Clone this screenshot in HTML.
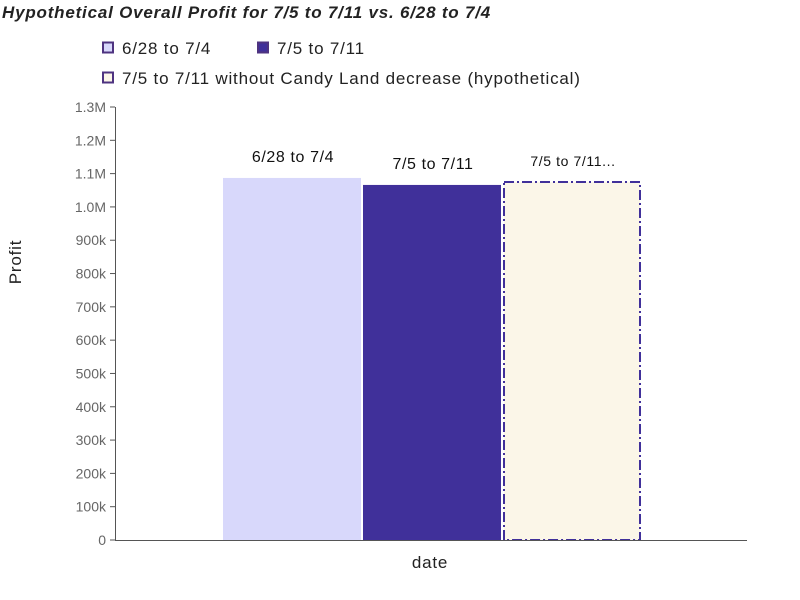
<!DOCTYPE html>
<html><head><meta charset="utf-8"><style>
body{margin:0;background:#fff;}
svg{font-family:"Liberation Sans",sans-serif;display:block}
</style></head><body>
<svg width="800" height="600">
<text x="2" y="18" font-size="17" font-weight="bold" font-style="italic" fill="#222" letter-spacing="0.8">Hypothetical Overall Profit for 7/5 to 7/11 vs. 6/28 to 7/4</text>
<g>
<g><rect x="103" y="42.5" width="10" height="10" fill="#d8d8fb" stroke="#4e3380" stroke-width="2"/><text x="122" y="54" font-size="17" fill="#222" letter-spacing="0.8">6/28 to 7/4</text></g>
<g><rect x="258" y="42.5" width="10" height="10" fill="#40309a" stroke="#4e3380" stroke-width="2"/><text x="277" y="54" font-size="17" fill="#222" letter-spacing="0.8">7/5 to 7/11</text></g>
<g><rect x="103" y="72.5" width="10" height="10" fill="#fbf6e8" stroke="#4e3380" stroke-width="2"/><text x="122" y="84" font-size="17" fill="#222" letter-spacing="0.8">7/5 to 7/11 without Candy Land decrease (hypothetical)</text></g>
</g>
<g id="yaxis"></g>
<g id="bars"></g>
<line x1="115" y1="540.5" x2="747" y2="540.5" stroke="#555"/>
<line x1="115.5" y1="107" x2="115.5" y2="540" stroke="#555"/>
<text x="430" y="568" font-size="17" text-anchor="middle" fill="#222" letter-spacing="0.8">date</text>
<text x="21" y="262" font-size="17" text-anchor="middle" fill="#222" letter-spacing="0.8" transform="rotate(-90 21 262)">Profit</text>
</svg>
<script>
const categories=["6/28 to 7/4","7/5 to 7/11","7/5 to 7/11..."];
const values=[1087000,1066000,1075000];
const yTicks=[0,100000,200000,300000,400000,500000,600000,700000,800000,900000,1000000,1100000,1200000,1300000];
const yTickLabels=["0","100k","200k","300k","400k","500k","600k","700k","800k","900k","1.0M","1.1M","1.2M","1.3M"];
const NS="http://www.w3.org/2000/svg";
const y=v=>540-v/1300000*433;
const x=i=>223+i*140;
const ya=document.getElementById('yaxis');
yTicks.forEach((t,i)=>{
 const l=document.createElementNS(NS,'line');
 
 
 l.setAttribute('x1',110);l.setAttribute('x2',115);l.setAttribute('y1',y(t));l.setAttribute('y2',y(t));l.setAttribute('stroke','#555');
 ya.appendChild(l);
 const tx=document.createElementNS(NS,'text');
 
 
 tx.setAttribute('x',106);tx.setAttribute('y',y(t)+5);tx.setAttribute('text-anchor','end');tx.setAttribute('font-size','14');tx.setAttribute('fill','#666');
 tx.textContent=yTickLabels[i];ya.appendChild(tx);
});
const fills=["#d8d8fb","#40309a","#fbf6e8"];
const bg=document.getElementById('bars');
values.forEach((v,i)=>{
 const r=document.createElementNS(NS,'rect');
 
 
 r.setAttribute('x',x(i)+(i==2?1:0));r.setAttribute('y',y(v));r.setAttribute('width',i==2?136:138);r.setAttribute('height',540-y(v));r.setAttribute('fill',fills[i]);
 if(i==2){r.setAttribute('stroke','#40309a');r.setAttribute('stroke-width','2');r.setAttribute('stroke-dasharray','10,3,2,3');}
 bg.appendChild(r);
 const t=document.createElementNS(NS,'text');
 
 
 t.setAttribute('x',x(i)+70);t.setAttribute('y',y(v)-16);t.setAttribute('text-anchor','middle');t.setAttribute('font-size',i==2?'14':'16');t.setAttribute('fill','#111');t.setAttribute('letter-spacing','0.6');
 t.textContent=categories[i];bg.appendChild(t);
});
</script>
</body></html>
